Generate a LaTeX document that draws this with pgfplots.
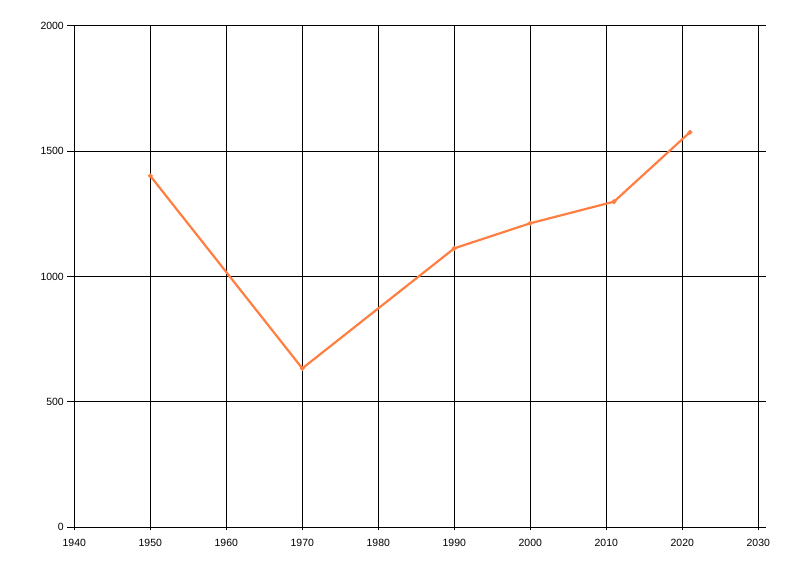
\documentclass[border=0pt]{standalone}
\usepackage{pgfplots}
\pgfplotsset{compat=1.18}
\usepackage{fontspec}
\setmainfont{Liberation Sans}
\definecolor{lineorange}{HTML}{FF7F42}
\begin{document}
\begin{tikzpicture}
\path[use as bounding box] (0,0) rectangle (800bp,576bp);
\begin{axis}[
  scale only axis,
  at={(74.3bp,45.7bp)}, anchor=south west,
  width=691.6bp, height=504.3bp,
  xmin=1940, xmax=2031,
  ymin=-12, ymax=2000,
  xtick={1940,1950,...,2030},
  ytick={0,500,...,2000},
  axis line style={draw=none},
  grid=major,
  major grid style={black, line width=1bp},
  tick style={black, line width=1bp},
  major tick length=7bp,
  tick align=outside,
  xtick pos=bottom, ytick pos=left,
  x tick style={draw=none},
  xticklabel style={font=\fontsize{10.5}{12}\selectfont, yshift=2bp},
  yticklabel style={font=\fontsize{10.5}{12}\selectfont},
  /pgf/number format/assume math mode=true,
  /pgf/number format/1000 sep={},
  clip=false,
]
\addplot[color=lineorange, line width=2.2bp, mark=*, mark size=1.1bp,
  mark options={draw=none, fill=black!60}]
  coordinates {
  (1950,1402)
  (1970,634)
  (1990,1113)
  (2000,1213)
  (2011,1299)
  (2021,1576)
  };
\end{axis}
\end{tikzpicture}
\end{document}
